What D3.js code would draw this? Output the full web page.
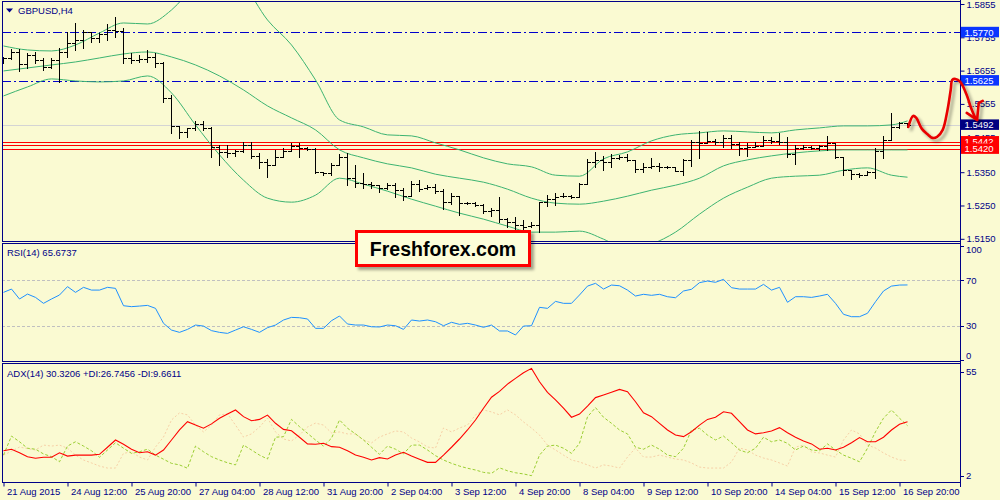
<!DOCTYPE html>
<html><head><meta charset="utf-8">
<script src="https://cdn.jsdelivr.net/npm/d3@7"></script>
<style>body{margin:0;background:#fafad2;}svg{display:block;}</style>
</head><body>
<svg id="chart" width="1000" height="500"></svg>
<script>
// ---------------- DATA ----------------
const symbolTitle = "GBPUSD,H4";
const rsiTitle = "RSI(14) 65.6737";
const adxTitle = "ADX(14) 30.3206 +DI:26.7456 -DI:9.6611";
const watermark = "Freshforex.com";

const barOpen = [
1.5687,1.5693,1.5711,1.5675,1.5702,1.5687,1.5666,1.5687,1.5711,1.5738,
1.5747,1.5771,1.5753,1.5765,1.5777,1.5774,1.5693,1.5687,1.5690,1.5696,
1.5678,1.5573,1.5489,1.5471,1.5483,1.5495,1.5483,1.5426,1.5411,1.5408,
1.5414,1.5432,1.5399,1.5381,1.5372,1.5396,1.5414,1.5429,1.5423,1.5420,
1.5350,1.5347,1.5372,1.5396,1.5332,1.5317,1.5314,1.5311,1.5302,1.5311,
1.5296,1.5278,1.5314,1.5302,1.5305,1.5293,1.5260,1.5278,1.5257,1.5257,
1.5251,1.5233,1.5236,1.5209,1.5200,1.5191,1.5188,1.5191,1.5260,1.5269,
1.5278,1.5278,1.5275,1.5314,1.5381,1.5387,1.5381,1.5393,1.5396,1.5387,
1.5360,1.5366,1.5369,1.5366,1.5366,1.5353,1.5387,1.5441,1.5438,1.5444,
1.5441,1.5453,1.5435,1.5423,1.5426,1.5429,1.5447,1.5444,1.5441,1.5405,
1.5423,1.5426,1.5423,1.5429,1.5438,1.5396,1.5356,1.5344,1.5341,1.5350,
1.5414,1.5447,1.5486,1.5498];
const barHigh = [
1.5696,1.5720,1.5720,1.5708,1.5711,1.5693,1.5693,1.5723,1.5771,1.5798,
1.5777,1.5771,1.5768,1.5795,1.5816,1.5783,1.5708,1.5702,1.5717,1.5708,
1.5681,1.5582,1.5489,1.5483,1.5504,1.5504,1.5486,1.5432,1.5432,1.5417,
1.5441,1.5441,1.5408,1.5390,1.5417,1.5423,1.5438,1.5438,1.5426,1.5423,
1.5350,1.5378,1.5405,1.5408,1.5372,1.5347,1.5320,1.5311,1.5317,1.5317,
1.5302,1.5323,1.5326,1.5311,1.5314,1.5299,1.5287,1.5278,1.5260,1.5260,
1.5254,1.5242,1.5275,1.5212,1.5215,1.5206,1.5200,1.5260,1.5281,1.5287,
1.5287,1.5281,1.5317,1.5390,1.5411,1.5399,1.5405,1.5402,1.5405,1.5387,
1.5378,1.5393,1.5378,1.5369,1.5366,1.5390,1.5447,1.5474,1.5471,1.5450,
1.5462,1.5462,1.5441,1.5438,1.5441,1.5459,1.5456,1.5468,1.5456,1.5432,
1.5432,1.5429,1.5432,1.5459,1.5438,1.5396,1.5356,1.5347,1.5353,1.5423,
1.5459,1.5528,1.5501,1.5498];
const barLow = [
1.5678,1.5690,1.5654,1.5663,1.5678,1.5657,1.5663,1.5621,1.5696,1.5717,
1.5723,1.5741,1.5741,1.5747,1.5756,1.5678,1.5678,1.5681,1.5681,1.5666,
1.5561,1.5468,1.5453,1.5456,1.5477,1.5477,1.5396,1.5372,1.5396,1.5399,
1.5411,1.5393,1.5363,1.5335,1.5372,1.5396,1.5414,1.5396,1.5417,1.5347,
1.5341,1.5341,1.5372,1.5311,1.5305,1.5302,1.5302,1.5290,1.5299,1.5275,
1.5266,1.5278,1.5293,1.5299,1.5287,1.5239,1.5254,1.5221,1.5254,1.5248,
1.5227,1.5218,1.5200,1.5185,1.5176,1.5176,1.5185,1.5170,1.5248,1.5251,
1.5275,1.5272,1.5275,1.5314,1.5366,1.5356,1.5366,1.5390,1.5384,1.5350,
1.5350,1.5363,1.5353,1.5363,1.5353,1.5341,1.5369,1.5393,1.5438,1.5435,
1.5426,1.5423,1.5402,1.5399,1.5426,1.5429,1.5438,1.5435,1.5396,1.5375,
1.5420,1.5420,1.5417,1.5417,1.5393,1.5341,1.5329,1.5335,1.5341,1.5332,
1.5393,1.5447,1.5483,1.5486];
const barClose = [
1.5693,1.5711,1.5675,1.5702,1.5687,1.5666,1.5687,1.5711,1.5738,1.5747,
1.5771,1.5753,1.5765,1.5777,1.5774,1.5693,1.5687,1.5690,1.5696,1.5678,
1.5573,1.5489,1.5471,1.5483,1.5495,1.5483,1.5426,1.5411,1.5408,1.5414,
1.5432,1.5399,1.5381,1.5372,1.5396,1.5414,1.5429,1.5423,1.5420,1.5350,
1.5347,1.5372,1.5396,1.5332,1.5317,1.5314,1.5311,1.5302,1.5311,1.5296,
1.5278,1.5314,1.5299,1.5305,1.5293,1.5260,1.5278,1.5257,1.5257,1.5251,
1.5233,1.5236,1.5209,1.5200,1.5191,1.5185,1.5191,1.5260,1.5269,1.5275,
1.5278,1.5275,1.5314,1.5381,1.5387,1.5381,1.5393,1.5396,1.5387,1.5360,
1.5366,1.5369,1.5366,1.5366,1.5353,1.5387,1.5441,1.5438,1.5444,1.5441,
1.5453,1.5435,1.5423,1.5426,1.5429,1.5447,1.5444,1.5441,1.5405,1.5423,
1.5426,1.5423,1.5429,1.5438,1.5396,1.5356,1.5344,1.5341,1.5350,1.5414,
1.5447,1.5486,1.5498,1.5492];

// Bollinger bands, sampled at these bar indices
const bandIndex = [0,3,6,9,12,15,18,21,24,27,30,33,36,39,42,45,48,51,54,57,60,63,66,69,72,75,78,81,84,87,90,93,96,99,102,105,108,111,113];
const bandUpper = [1.5729,1.5717,1.5714,1.5732,1.5768,1.5798,1.5795,1.5837,1.5912,1.5957,1.5912,1.5807,1.5732,1.5627,1.5507,1.5486,1.5462,1.5459,1.5438,1.5417,1.5393,1.5375,1.5366,1.5341,1.5338,1.5390,1.5411,1.5444,1.5462,1.5468,1.5474,1.5471,1.5468,1.5477,1.5483,1.5489,1.5489,1.5492,1.5504];
const bandMiddle = [1.5654,1.5663,1.5672,1.5681,1.5693,1.5705,1.5711,1.5696,1.5672,1.5639,1.5597,1.5549,1.5513,1.5477,1.5417,1.5393,1.5375,1.5363,1.5344,1.5332,1.5320,1.5299,1.5272,1.5257,1.5254,1.5263,1.5278,1.5296,1.5311,1.5332,1.5369,1.5387,1.5399,1.5408,1.5414,1.5417,1.5417,1.5417,1.5417];
const bandLower = [1.5579,1.5606,1.5630,1.5624,1.5621,1.5624,1.5639,1.5588,1.5492,1.5402,1.5326,1.5272,1.5260,1.5281,1.5332,1.5314,1.5293,1.5269,1.5248,1.5227,1.5209,1.5188,1.5170,1.5170,1.5173,1.5149,1.5116,1.5134,1.5170,1.5224,1.5272,1.5305,1.5332,1.5338,1.5341,1.5356,1.5363,1.5341,1.5335];

const rsiValues = [
59.2,62.1,53.4,57.7,54.8,49.6,53.4,56.9,64.2,59.2,
63.6,61.2,61.2,63.6,62.7,47.5,46.7,47.2,47.8,45.2,
32.1,26.2,24.2,26.8,30.6,29.7,25.7,24.2,23.3,26.2,
29.1,26.8,24.2,28.3,30.6,35.0,37.3,37.0,35.9,27.7,
27.7,34.4,38.5,31.5,30.6,30.6,29.1,28.9,30.6,30.0,
26.8,35.0,34.1,35.0,33.5,30.0,33.0,31.2,32.1,30.6,
28.6,30.6,25.4,25.4,21.9,29.7,30.0,46.1,45.2,51.3,
49.6,49.6,56.9,64.7,67.1,62.1,65.6,65.0,61.2,56.0,
57.5,56.6,57.5,55.4,54.5,60.4,61.9,67.7,69.1,68.0,
70.6,63.3,62.1,62.1,62.1,66.2,61.2,63.6,50.5,55.4,
55.4,54.8,56.0,57.5,49.6,40.0,37.9,37.9,40.9,51.0,
60.4,64.7,65.6,65.7];

const adxValues = [
14.7,15.5,13.7,11.7,10.9,11.4,11.4,13.7,12.0,12.5,
12.5,12.5,12.9,16.5,20.2,18.0,15.5,13.7,14.2,12.5,
15.1,20.2,25.3,29.5,27.8,26.2,28.4,31.3,33.4,35.5,
32.1,30.0,30.7,32.9,28.7,25.6,24.9,21.6,18.2,18.0,
18.5,16.8,16.5,14.7,12.5,11.4,10.0,11.2,10.5,12.5,
13.9,12.0,10.4,8.8,8.8,12.5,16.5,20.7,25.3,30.4,
36.4,42.0,45.0,48.7,51.6,54.5,56.7,49.9,44.5,40.6,
36.4,31.8,33.4,37.5,41.8,43.1,44.5,46.0,44.8,39.7,
34.1,32.1,28.7,25.3,22.7,21.9,24.4,27.8,30.7,31.8,
34.6,33.8,29.5,25.3,23.3,23.9,24.8,26.5,23.9,21.6,
19.7,18.2,15.5,16.0,15.1,16.5,18.8,21.4,19.3,19.3,
21.6,25.3,28.2,29.5];

const plusDI = [
12.5,22.2,19.3,16.0,15.5,13.1,11.7,9.1,17.1,19.3,
17.1,14.7,11.4,15.1,18.8,16.0,13.4,14.2,15.5,12.5,
10.4,8.3,7.5,5.8,17.1,14.2,11.7,10.0,8.6,7.5,
17.6,15.1,12.5,10.5,21.6,21.9,30.7,27.0,23.6,20.2,
17.1,21.1,30.4,26.2,23.3,20.2,16.5,12.9,17.1,15.5,
13.1,17.6,17.6,15.1,12.2,10.0,8.3,6.9,5.8,4.9,
3.7,3.2,6.0,4.5,3.5,2.9,2.0,12.5,17.1,17.6,
16.0,13.4,18.5,32.0,36.7,31.8,28.7,25.3,23.3,16.5,
15.5,17.6,15.5,12.5,11.7,16.0,25.3,26.2,22.7,20.2,
22.2,18.8,15.1,13.7,16.0,21.6,19.3,20.2,18.5,15.1,
17.1,15.1,14.7,18.2,15.1,12.5,10.9,9.1,16.0,24.4,
31.3,35.5,31.3,27.5];

const minusDI = [
12.5,14.5,16.6,15.8,15.1,17.6,17.1,17.6,16.0,12.5,
10.0,8.5,6.9,5.9,5.9,13.4,14.1,11.5,10.0,16.6,
21.7,30.4,34.0,33.0,27.8,24.3,27.8,33.0,33.5,27.8,
21.7,23.3,26.8,31.4,24.3,20.7,19.7,22.7,26.8,28.8,
27.8,23.8,24.3,23.3,23.3,20.2,18.7,21.7,23.3,24.8,
24.3,21.2,19.2,16.6,16.1,26.3,24.3,26.3,27.8,33.0,
35.5,34.5,33.0,35.5,33.0,29.4,26.3,22.7,17.6,15.1,
12.5,10.0,9.0,7.5,5.9,7.5,6.9,5.9,11.5,16.1,
11.5,11.5,12.5,11.5,10.5,10.0,8.5,6.4,5.9,5.9,
5.9,9.0,16.1,15.1,12.5,11.0,10.0,8.5,6.9,16.6,
17.6,14.1,13.6,12.5,11.5,20.2,25.3,23.3,17.6,16.1,
13.6,11.5,10.0,9.7];

const priceTicks = [1.5855,1.5755,1.5655,1.5555,1.5455,1.5350,1.5250,1.5150];
const blueLevels = [1.5770,1.5625];
const redLevels = [1.5442,1.5431,1.5420];
const redLabels = [1.5442,1.5420];
const lastPrice = 1.5492;
const rsiLevels = [70,30];
const rsiTicks = [100,70,30,0];
const adxTicks = [55,2];
const xTickBars = [0,8,16,24,32,40,48,56,64,72,80,88,96,104,112];
const xLabels = ["21 Aug 2015","24 Aug 12:00","25 Aug 20:00","27 Aug 04:00","28 Aug 12:00","31 Aug 20:00","2 Sep 04:00","3 Sep 12:00","4 Sep 20:00","8 Sep 04:00","9 Sep 12:00","10 Sep 20:00","14 Sep 04:00","15 Sep 12:00","16 Sep 20:00"];

// hand-drawn forecast arrow, in (bar index, price)
const arrowCurve = [[113.1,1.5486],[113.7,1.5519],[114.1,1.5513],[114.8,1.5480],[115.6,1.5462],[116.1,1.5453],[116.7,1.5456],[117.4,1.5477],[118.0,1.5537],[118.4,1.5597],[118.6,1.5627],[119.0,1.5630],[119.6,1.5621],[120.4,1.5582],[120.9,1.5546],[121.5,1.5513],[121.7,1.5507]];
const arrowHead = [[120.4,1.5528],[121.7,1.5507],[121.9,1.5558],[122.4,1.5564]];

// ---------------- DRAW ----------------
const W = 1000, H = 500;
const bg = "#fafad2", navy = "#000088", font = "'Liberation Sans', Arial, sans-serif";
const svg = d3.select("#chart");
svg.append("rect").attr("width", W).attr("height", H).attr("fill", bg);

const defs = svg.append("defs");
const sh = defs.append("filter").attr("id","shadow").attr("x","-20%").attr("y","-20%").attr("width","150%").attr("height","160%");
sh.append("feDropShadow").attr("dx",3).attr("dy",3).attr("stdDeviation",1.6).attr("flood-color","#000").attr("flood-opacity",0.35);

const plotL = 2, plotR = 960;
const panels = {
  price: {top: 1.5, bottom: 241.5},
  rsi:   {top: 243.5, bottom: 361.5},
  adx:   {top: 363.5, bottom: 482.5}
};
Object.entries(panels).forEach(([k,p]) => {
  defs.append("clipPath").attr("id","clip-"+k).append("rect")
    .attr("x", plotL).attr("y", p.top).attr("width", plotR-plotL).attr("height", p.bottom-p.top);
});

const x = d3.scaleLinear().domain([0,113]).range([3.5,907.5]);
const yP = d3.scaleLinear().domain([1.5855,1.5150]).range([4,238.8]);
const yR = d3.scaleLinear().domain([0,100]).range([360,245.75]);
const yA = d3.scaleLinear().domain([2,55]).range([475.7,371.7]);
const snap = v => Math.round(v) + 0.5;

// ---- price panel ----
const gP = svg.append("g").attr("clip-path","url(#clip-price)");
gP.append("line").attr("x1",plotL).attr("x2",plotR).attr("y1",snap(yP(lastPrice))).attr("y2",snap(yP(lastPrice)))
  .attr("stroke","#d4d4d4").attr("stroke-width",1);
gP.selectAll("line.blue").data(blueLevels).join("line").attr("class","blue")
  .attr("x1",plotL).attr("x2",plotR).attr("y1",d=>snap(yP(d))).attr("y2",d=>snap(yP(d)))
  .attr("stroke","#0000cd").attr("stroke-width",1).attr("stroke-dasharray","9,3,2,3");
gP.selectAll("line.red").data(redLevels).join("line").attr("class","red")
  .attr("x1",plotL).attr("x2",plotR).attr("y1",d=>snap(yP(d))).attr("y2",d=>snap(yP(d)))
  .attr("stroke","#ff0000").attr("stroke-width",1);

const bandLine = vals => d3.line().curve(d3.curveMonotoneX).x((d,k)=>x(bandIndex[k])).y(d=>yP(d))(vals);
[bandUpper, bandMiddle, bandLower].forEach(b => {
  gP.append("path").attr("d", bandLine(b)).attr("fill","none").attr("stroke","#3cb371").attr("stroke-width",1);
});

gP.selectAll("path.bar").data(barClose).join("path").attr("class","bar")
  .attr("d",(c,i)=>{
    const xi = x(i);
    const yh = Math.round(yP(barHigh[i])), yl = Math.round(yP(barLow[i])) + 1;
    const yo = snap(yP(barOpen[i])), yc = snap(yP(c));
    return `M${xi},${yh}V${yl}M${xi-3.5},${yo}H${xi}M${xi},${yc}H${xi+3.5}`;
  })
  .attr("stroke","#000").attr("stroke-width",1).attr("fill","none");

// ---- RSI panel ----
const gR = svg.append("g").attr("clip-path","url(#clip-rsi)");
gR.selectAll("line.lvl").data(rsiLevels).join("line").attr("class","lvl")
  .attr("x1",plotL).attr("x2",plotR).attr("y1",d=>snap(yR(d))).attr("y2",d=>snap(yR(d)))
  .attr("stroke","#c0c0c0").attr("stroke-dasharray","3,2");
gR.append("path").attr("d", d3.line().x((d,i)=>x(i)).y(d=>yR(d))(rsiValues))
  .attr("fill","none").attr("stroke","#1e90ff").attr("stroke-width",1);

// ---- ADX panel ----
const gA = svg.append("g").attr("clip-path","url(#clip-adx)");
const lA = d3.line().x((d,i)=>x(i)).y(d=>yA(d));
gA.append("path").attr("d", lA(minusDI)).attr("fill","none").attr("stroke","#f6cfa6").attr("stroke-width",1).attr("stroke-dasharray","2,2");
gA.append("path").attr("d", lA(plusDI)).attr("fill","none").attr("stroke","#9acd32").attr("stroke-width",1).attr("stroke-dasharray","3,2");
gA.append("path").attr("d", lA(adxValues)).attr("fill","none").attr("stroke","#ff0000").attr("stroke-width",1.1);

// ---- panel borders ----
Object.values(panels).forEach(p => {
  svg.append("rect").attr("x",plotL+0.5).attr("y",p.top).attr("width",plotR-plotL).attr("height",p.bottom-p.top)
    .attr("fill","none").attr("stroke",navy).attr("stroke-width",1);
});
svg.append("line").attr("x1",plotR+0.5).attr("x2",plotR+0.5).attr("y1",0).attr("y2",487).attr("stroke",navy);

// ---- right price axis ----
const axP = svg.append("g").attr("transform",`translate(${plotR+0.5},0)`)
  .call(d3.axisRight(yP).tickValues(priceTicks).tickFormat(d3.format(".4f")).tickSize(4).tickPadding(2));
axP.select(".domain").remove();
axP.selectAll("line").attr("stroke",navy);
axP.selectAll("text").attr("fill",navy).style("font-family",font).style("font-size","9.5px");

// level label boxes
const labelBox = (v, fill) => {
  const yc = yP(v);
  svg.append("rect").attr("x",961).attr("y",yc-5.5).attr("width",38).attr("height",10.5).attr("fill",fill);
  svg.append("text").attr("x",964.5).attr("y",yc+3.6).text(d3.format(".4f")(v))
    .attr("fill","#fff").style("font-family",font).style("font-size","9.5px");
};
blueLevels.forEach(v => labelBox(v, "#0a35ff"));
labelBox(lastPrice, "#000080");
redLabels.forEach(v => labelBox(v, "#ff0000"));

// ---- RSI axis ----
const rs = svg.append("g");
rs.selectAll("line").data(rsiTicks).join("line")
  .attr("x1",plotR).attr("x2",plotR+4).attr("y1",d=>snap(yR(d))).attr("y2",d=>snap(yR(d))).attr("stroke",navy);
rs.selectAll("text").data(rsiTicks).join("text")
  .attr("x",plotR+6).attr("y",d=>Math.max(panels.rsi.top+6, Math.min(panels.rsi.bottom-6, yR(d)))+3.5)
  .text(d=>d).attr("fill",navy).style("font-family",font).style("font-size","9.5px");

// ---- ADX axis ----
const as = svg.append("g");
as.selectAll("line").data(adxTicks).join("line")
  .attr("x1",plotR).attr("x2",plotR+4).attr("y1",d=>snap(yA(d))).attr("y2",d=>snap(yA(d))).attr("stroke",navy);
as.selectAll("text").data(adxTicks).join("text")
  .attr("x",plotR+6).attr("y",d=>yA(d)+3.5)
  .text(d=>d).attr("fill",navy).style("font-family",font).style("font-size","9.5px");

// ---- bottom time axis ----
const axX = svg.append("g").attr("transform",`translate(0,${panels.adx.bottom})`)
  .call(d3.axisBottom(x).tickValues(xTickBars).tickFormat((d,k)=>xLabels[k]).tickSize(4));
axX.select(".domain").remove();
axX.selectAll("line").attr("stroke",navy);
axX.selectAll("text").attr("text-anchor","start").attr("x",3).attr("y",6).attr("dy","0.71em")
  .attr("fill",navy).style("font-family",font).style("font-size","9.5px");

// ---- titles ----
svg.append("path").attr("d","M6,8.5L13,8.5L9.5,12.5Z").attr("fill",navy);
svg.append("text").attr("x",18).attr("y",14).text(symbolTitle).attr("fill",navy).style("font-family",font).style("font-size","9.5px");
svg.append("text").attr("x",7).attr("y",255.5).text(rsiTitle).attr("fill",navy).style("font-family",font).style("font-size","9.5px");
svg.append("text").attr("x",7).attr("y",377).text(adxTitle).attr("fill",navy).style("font-family",font).style("font-size","9.5px");

// ---- watermark box ----
const wm = svg.append("g");
wm.append("rect").attr("x",356.5).attr("y",231.5).attr("width",173).attr("height",34)
  .attr("fill","#fdfdd9").attr("stroke","#ff0000").attr("stroke-width",3).attr("filter","url(#shadow)");
wm.append("text").attr("x",443).attr("y",256).attr("text-anchor","middle").text(watermark)
  .attr("fill","#000").style("font-family",font).style("font-weight","bold").style("font-size","19.5px");

// ---- hand-drawn forecast arrow ----
const ag = svg.append("g").attr("filter","url(#shadow)");
ag.append("path").attr("d", d3.line().curve(d3.curveCatmullRom).x(d=>x(d[0])).y(d=>yP(d[1]))(arrowCurve))
  .attr("fill","none").attr("stroke","#e80000").attr("stroke-width",2.6).attr("stroke-linecap","round").attr("stroke-linejoin","round");
ag.append("path").attr("d", d3.line().x(d=>x(d[0])).y(d=>yP(d[1]))(arrowHead))
  .attr("fill","none").attr("stroke","#e80000").attr("stroke-width",2.6).attr("stroke-linecap","round").attr("stroke-linejoin","round");
</script>
</body></html>
